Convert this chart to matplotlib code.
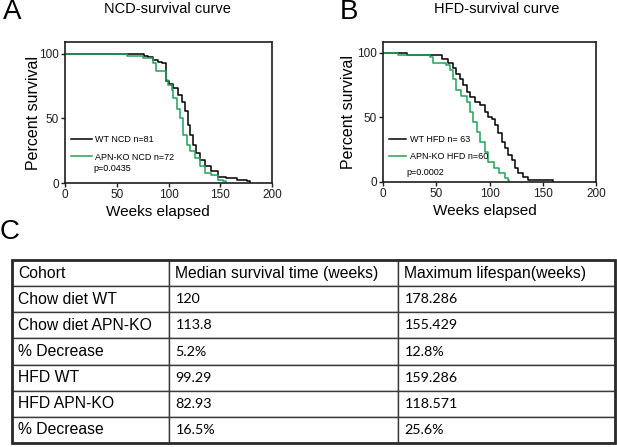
import numpy as np
import matplotlib.pyplot as plt
from matplotlib.patches import Rectangle

plt.rcParams['font.family'] = ['Liberation Sans', 'DejaVu Sans']

# ---------- Kaplan-Meier curves (weeks, % survival) ----------
ncd_wt_t = [0, 76, 80, 85, 90, 94, 97.6, 100, 104.7, 109.5, 112.7, 116, 119, 120.8,
            124, 127, 130, 135, 141.5, 148, 156, 166, 175.5, 178.3]
ncd_wt_s = [100, 98.8, 97.5, 95.6, 93.8, 93, 79, 77, 73.6, 68.5, 63, 55.6, 45, 37.5,
            29.7, 23, 18, 13, 9, 5, 3.9, 2.6, 1.3, 0]

ncd_ko_t = [0, 60, 75, 85.3, 88, 97.6, 99.8, 103, 104.7, 108, 111, 114.3, 117.5,
            120.8, 125.6, 130, 135, 141.5, 148, 153, 155.4]
ncd_ko_s = [100, 98.6, 97.2, 93, 86.6, 80, 76, 72, 66, 57, 50, 37.5, 29.7,
            24.5, 19.4, 13, 7.8, 6.5, 2.6, 1.3, 0]

hfd_wt_t = [0, 23, 55, 61, 66, 69, 72, 75.4, 78.6, 81.7, 86.4, 91, 95.8, 99, 102,
            105, 108.3, 111.4, 114.5, 117.6, 120.7, 124, 127, 131.7, 136.4, 159.3]
hfd_wt_s = [100, 98.4, 95, 92, 88, 84, 80, 75, 70, 66, 62, 59.7, 54.5, 50.6, 49,
            44, 37.7, 31, 26, 21, 17, 10.6, 6.7, 4, 1.6, 0]

hfd_ko_t = [0, 14, 44, 47, 59.4, 62.5, 65.7, 68.8, 73.5, 78.6, 81.7, 84.8, 88, 91,
            95.8, 99, 103.8, 108.5, 114.5, 117.6, 118.6]
hfd_ko_s = [100, 98.3, 96.6, 92, 90.7, 86.8, 80, 71, 67, 62, 54.5, 46.8, 39, 31,
            23.5, 15.8, 10.6, 6.7, 2.8, 1.6, 0]

x_ticks = [0, 50, 100, 150, 200]
y_ticks = [0, 50, 100]

# ---------- Table ----------
table_header = ["Cohort", "Median survival time (weeks)", "Maximum lifespan(weeks)"]
cohorts = ["Chow diet WT", "Chow diet APN-KO", "% Decrease", "HFD WT", "HFD APN-KO", "% Decrease"]
median_weeks = ["120", "113.8", "5.2%", "99.29", "82.93", "16.5%"]
max_lifespan = ["178.286", "155.429", "12.8%", "159.286", "118.571", "25.6%"]

GREEN = "#23a05a"
DARK = "#1e1e1e"
W, H = 617, 447

fig = plt.figure(figsize=(W / 100, H / 100), dpi=100)


def px_axes(l, r, t, b):
    return fig.add_axes([l / W, 1 - b / H, (r - l) / W, (b - t) / H])


def style_km(ax, ytop, xl_x, xl_y, yl_x):
    ax.set_xlim(0, 200)
    ax.set_ylim(0, ytop)
    ax.set_xticks(x_ticks)
    ax.set_yticks(y_ticks)
    for s in ax.spines.values():
        s.set_linewidth(1.2)
        s.set_color(DARK)
    ax.tick_params(direction='out', length=3, width=1, labelsize=8.5, pad=1.5, colors=DARK)
    ax.set_xlabel("Weeks elapsed", fontsize=11)
    ax.set_ylabel("Percent survival", fontsize=11.5)
    ax.xaxis.set_label_coords(xl_x, xl_y)
    ax.yaxis.set_label_coords(yl_x, 0.5)


# ---- Panel A ----
axA = px_axes(65, 272, 42, 183)
axA.step(ncd_wt_t, ncd_wt_s, where='post', color='black', lw=1.1, label="WT NCD n=81")
axA.step(ncd_ko_t, ncd_ko_s, where='post', color=GREEN, lw=1.1, label="APN-KO NCD n=72")
style_km(axA, 109.3, 0.45, -0.155, -0.115)
axA.legend(loc='upper left', bbox_to_anchor=(0.02, 0.35), frameon=False,
           fontsize=6.5, handlelength=2.3, handletextpad=0.4, labelspacing=0.9,
           borderaxespad=0, borderpad=0.2)
axA.text(0.135, 0.106, "p=0.0435", transform=axA.transAxes, fontsize=6.5, va='center')

# ---- Panel B ----
axB = px_axes(383, 596, 42, 182)
axB.step(hfd_wt_t, hfd_wt_s, where='post', color='black', lw=1.1, label="WT HFD n= 63")
axB.step(hfd_ko_t, hfd_ko_s, where='post', color=GREEN, lw=1.1, label="APN-KO HFD n=60")
style_km(axB, 108.5, 0.479, -0.16, -0.125)
axB.legend(loc='upper left', bbox_to_anchor=(0.02, 0.35), frameon=False,
           fontsize=6.5, handlelength=1.9, handletextpad=0.4, labelspacing=0.9,
           borderaxespad=0, borderpad=0.2)
axB.text(0.108, 0.071, "p=0.0002", transform=axB.transAxes, fontsize=6.5, va='center')

# ---- titles and panel letters ----
fig.text(167 / W, 1 - 9 / H, "NCD-survival curve", ha='center', va='center', fontsize=10.5)
fig.text(497 / W, 1 - 9 / H, "HFD-survival curve", ha='center', va='center', fontsize=10.5)
fig.text(3 / W, 1 - 12 / H, "A", ha='left', va='center', fontsize=20)
fig.text(340 / W, 1 - 12 / H, "B", ha='left', va='center', fontsize=20)
fig.text(0 / W, 1 - 232 / H, "C", ha='left', va='center', fontsize=20)

# ---- Panel C: table ----
axT = px_axes(12, 615, 260, 443)
axT.axis('off')
col_px = np.array([157, 229, 217])
cells = [[c, m, x] for c, m, x in zip(cohorts, median_weeks, max_lifespan)]
tbl = axT.table(cellText=cells, colLabels=table_header, colWidths=col_px / col_px.sum(),
                bbox=[0, 0, 1, 1], cellLoc='left', colLoc='left')
tbl.auto_set_font_size(False)
for (r, c), cell in tbl.get_celld().items():
    cell.set_edgecolor('#3a3a3a')
    cell.set_linewidth(1.0)
    cell.PAD = 6.5 / col_px[c]
    txt = cell.get_text()
    if r == 0 or c == 0:
        txt.set_fontsize(11.3)
        txt.set_fontfamily(['Liberation Sans', 'DejaVu Sans'])
    else:
        txt.set_fontsize(10.3)
        txt.set_fontfamily(['Lato', 'DejaVu Sans'])
axT.add_patch(Rectangle((0, 0), 1, 1, transform=axT.transAxes, fill=False,
                        lw=2.0, edgecolor='#2a2a2a', clip_on=False))

fig.savefig("out.png", dpi=100)
